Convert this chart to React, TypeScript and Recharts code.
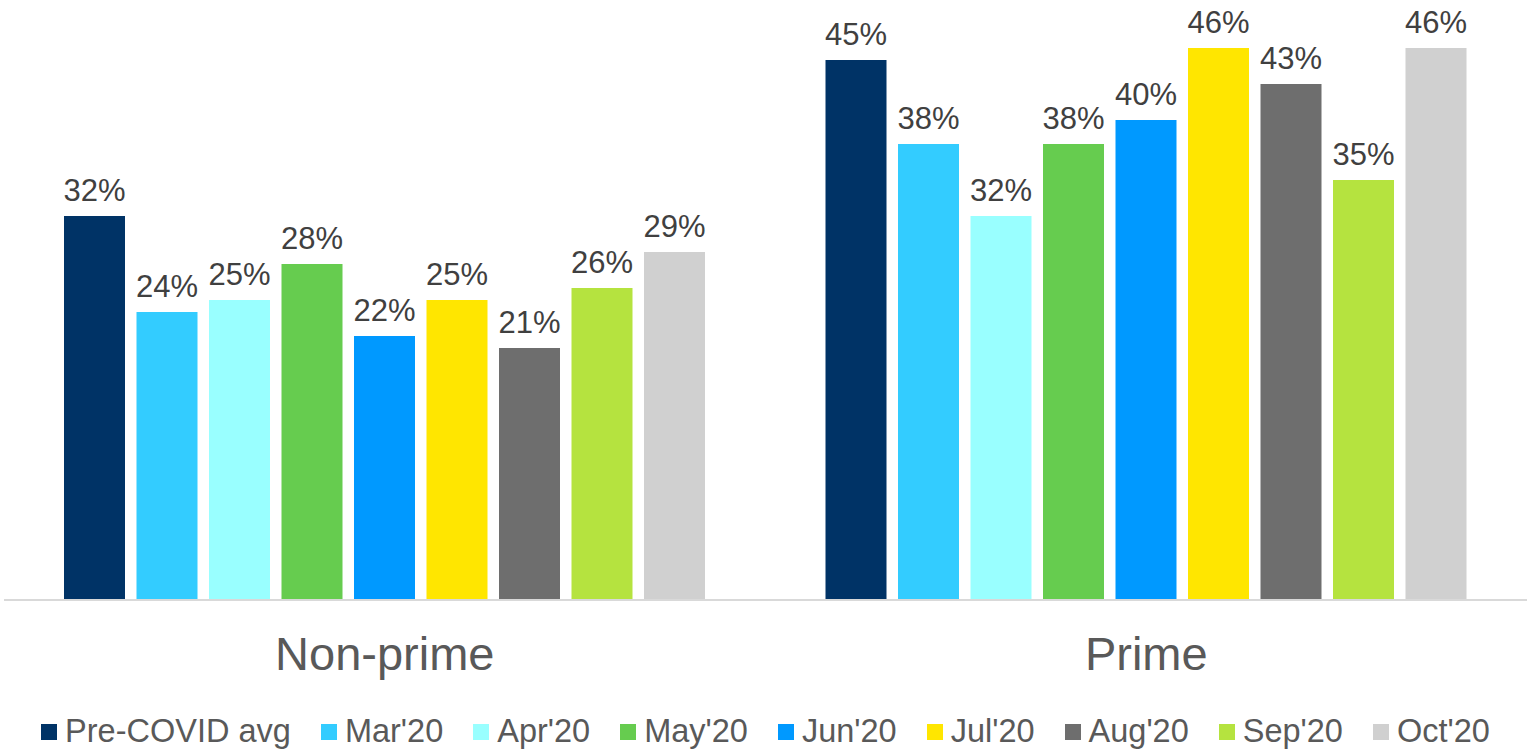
import React from "react";
import { BarChart, Bar, XAxis, YAxis, Legend, LabelList } from "recharts";

const categories = ["Non-prime", "Prime"];
const seriesNames = ["Pre-COVID avg", "Mar'20", "Apr'20", "May'20", "Jun'20", "Jul'20", "Aug'20", "Sep'20", "Oct'20"];
const nonPrime = [32, 24, 25, 28, 22, 25, 21, 26, 29];
const prime = [45, 38, 32, 38, 40, 46, 43, 35, 46];
const colors = ["#003366", "#33CCFF", "#99FFFF", "#66CC4F", "#0099FF", "#FFE600", "#6E6E6E", "#B5E33F", "#D0D0D0"];

const values = [nonPrime, prime];
const data = categories.map((cat, i) => {
  const row: any = { cat };
  seriesNames.forEach((s, j) => { row["s" + j] = values[i][j]; });
  return row;
});

const FONT = "'Liberation Sans', Arial, sans-serif";

// legend drawn by hand so spacing and order follow the original
const renderLegend = ({ payload }: any) => {
  const items = [...(payload || [])].sort(
    (a: any, b: any) => seriesNames.indexOf(a.value) - seriesNames.indexOf(b.value)
  );
  return (
    <div style={{ display: "flex", justifyContent: "center", alignItems: "center", gap: 30, paddingTop: 18, fontFamily: FONT, fontSize: 32.5, color: "#595959" }}>
      {items.map((p: any) => (
        <div key={p.value} style={{ display: "flex", alignItems: "center", gap: 8 }}>
          <div style={{ width: 16, height: 16, background: p.color }} />
          <span>{p.value}</span>
        </div>
      ))}
    </div>
  );
};

export default function App() {
  return (
    <div style={{ position: "absolute", left: 0, top: 0, background: "#fff" }}>
      <BarChart
        width={1527}
        height={750}
        data={data}
        margin={{ top: 0, right: 0, left: 4, bottom: 0 }}
        barCategoryGap={60}
        barGap={11.5}
      >
        <XAxis
          dataKey="cat"
          tickLine={false}
          axisLine={{ stroke: "#D9D9D9", strokeWidth: 2 }}
          tick={{ fill: "#595959", fontSize: 47, fontFamily: FONT }}
          tickMargin={31}
          height={95}
        />
        <YAxis hide domain={[0, 50]} />
        <Legend verticalAlign="bottom" height={55} content={renderLegend} />
        {seriesNames.map((s, j) => (
          <Bar key={s} dataKey={"s" + j} name={s} fill={colors[j]} isAnimationActive={false}>
            <LabelList
              dataKey={"s" + j}
              position="top"
              offset={15}
              formatter={(v: any) => `${v}%`}
              style={{ fill: "#404040", fontSize: 31, fontFamily: FONT }}
            />
          </Bar>
        ))}
      </BarChart>
    </div>
  );
}
